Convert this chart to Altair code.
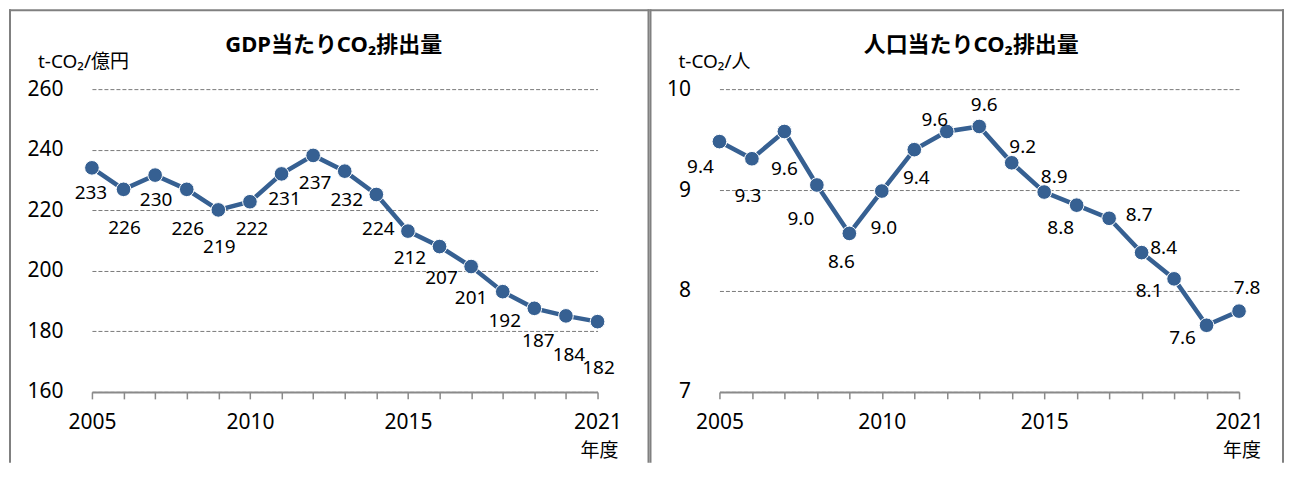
import altair as alt
import pandas as pd

# ---------------- data ----------------
years = list(range(2005, 2022))

gdp_values = [234.0, 226.9, 231.6, 226.9, 220.1, 222.8, 232.0, 238.1, 232.9,
              225.2, 213.1, 208.0, 201.4, 193.1, 187.6, 185.1, 183.2]
gdp_labels = ["233", "226", "230", "226", "219", "222", "231", "237", "232",
              "224", "212", "207", "201", "192", "187", "184", "182"]

pop_values = [9.48, 9.31, 9.58, 9.05, 8.57, 8.99, 9.40, 9.58, 9.63,
              9.27, 8.98, 8.85, 8.72, 8.38, 8.12, 7.66, 7.80]
pop_labels = ["9.4", "9.3", "9.6", "9.0", "8.6", "9.0", "9.4", "9.6", "9.6",
              "9.2", "8.9", "8.8", "8.7", "8.4", "8.1", "7.6", "7.8"]

x_label_years = [2005, 2010, 2015, 2021]
gdp_ticks = [160, 180, 200, 220, 240, 260]
pop_ticks = [7, 8, 9, 10]

gdp_title = "GDP当たりCO₂排出量"
pop_title = "人口当たりCO₂排出量"
gdp_unit = "t-CO₂/億円"
pop_unit = "t-CO₂/人"
x_unit = "年度"

# ---------------- style ----------------
BLUE = "#366092"
GRAY = "#8a8a8a"
FRAME = "#808080"
FONT = "Noto Sans, Noto Sans CJK JP, sans-serif"

# label placement (dx, dy) relative to each point, per year
gdp_label_offsets = [(-1, 25), (1, 39), (1, 25), (1, 40), (1, 37), (2, 27), (3, 25),
                     (2, 28), (2, 29), (2, 35), (2, 27), (2, 31), (0, 31), (2, 29),
                     (4, 33), (3, 39), (1, 46)]
pop_label_offsets = [(-19, 25), (-4, 37), (0, 38), (-16, 34), (-8, 29), (2, 37), (2, 28),
                     (-12, -12), (5, -21), (11, -16), (10, -15), (-16, 23), (30, -3),
                     (22, -5), (-25, 12), (-24, 13), (8, -23)]

PLOT_H = 303
single = pd.DataFrame({"k": [0]})


def panel(values, labels, offsets, ydomain, yticks, title, unit, width,
          fr_left, fr_right, title_x, unit_x, nendo_x):
    df = pd.DataFrame({"year": years, "value": values, "label": labels})
    label_expr = " || ".join(f"datum.value == {y}" for y in x_label_years)
    x = alt.X("year:Q",
              scale=alt.Scale(domain=[years[0], years[-1]], nice=False, zero=False),
              axis=alt.Axis(values=years, format="d",
                            labelExpr=f"({label_expr}) ? datum.label : ''",
                            grid=False, tickSize=7, tickColor=GRAY, tickWidth=1.5,
                            domainColor=GRAY, domainWidth=2,
                            labelFontSize=21, labelFont=FONT, labelColor="black",
                            labelPadding=13, labelFlush=False, labelOverlap=False,
                            labelBound=False, title=None))
    y = alt.Y("value:Q",
              scale=alt.Scale(domain=ydomain, nice=False, zero=False),
              axis=alt.Axis(values=yticks, format="d", grid=True, gridDash=[4, 2],
                            gridColor="#7a7a7a", gridWidth=1, domain=False, ticks=False,
                            tickSize=0, labelPadding=29, labelFontSize=21,
                            labelFont=FONT, labelColor="black", title=None))
    base = alt.Chart(df).encode(x=x, y=y)
    line = base.mark_line(color=BLUE, strokeWidth=4.5)
    pts = base.mark_point(filled=True, shape="circle", size=215, color=BLUE,
                          stroke="white", strokeWidth=1, opacity=1)
    label_layers = []
    for yr, (dx, dy) in zip(years, offsets):
        label_layers.append(
            base.transform_filter(alt.datum.year == yr).mark_text(
                fontSize=19, font=FONT, color="black", align="center",
                baseline="middle", dx=dx, dy=dy).encode(text="label:N"))

    frame = [
        alt.Chart(single).mark_rule(color=FRAME, strokeWidth=2).encode(
            x=alt.value(fr_left), y=alt.value(-80), y2=alt.value(374)),
        alt.Chart(single).mark_rule(color=FRAME, strokeWidth=2).encode(
            x=alt.value(fr_right), y=alt.value(-80), y2=alt.value(374)),
        alt.Chart(single).mark_rule(color=FRAME, strokeWidth=2).encode(
            x=alt.value(fr_left - 1), x2=alt.value(fr_right + 1), y=alt.value(-79)),
    ]
    texts = [
        alt.Chart(single).mark_text(text=title, font=FONT, fontSize=22,
                                    fontWeight="bold", color="black",
                                    align="center", baseline="alphabetic").encode(
            x=alt.value(title_x), y=alt.value(-37)),
        alt.Chart(single).mark_text(text=unit, font=FONT, fontSize=19,
                                    color="black", align="left",
                                    baseline="alphabetic").encode(
            x=alt.value(unit_x), y=alt.value(-21)),
        alt.Chart(single).mark_text(text=x_unit, font=FONT, fontSize=19,
                                    color="black", align="center",
                                    baseline="alphabetic").encode(
            x=alt.value(nendo_x), y=alt.value(368)),
    ]
    return alt.layer(*frame, line, pts, *label_layers, *texts).properties(
        width=width, height=PLOT_H)


left = panel(gdp_values, gdp_labels, gdp_label_offsets, [160, 260], gdp_ticks,
             gdp_title, gdp_unit, 506, -82, 557, 242, -54, 508)
right = panel(pop_values, pop_labels, pop_label_offsets, [7, 10], pop_ticks,
              pop_title, pop_unit, 520, -69, 564, 252, -41, 523)

chart = alt.hconcat(left, right, spacing=122, bounds="flush").properties(
    padding=0, background="white"
).configure_view(stroke=None)

chart.save("out.html", embed_options={"renderer": "svg", "actions": False})
